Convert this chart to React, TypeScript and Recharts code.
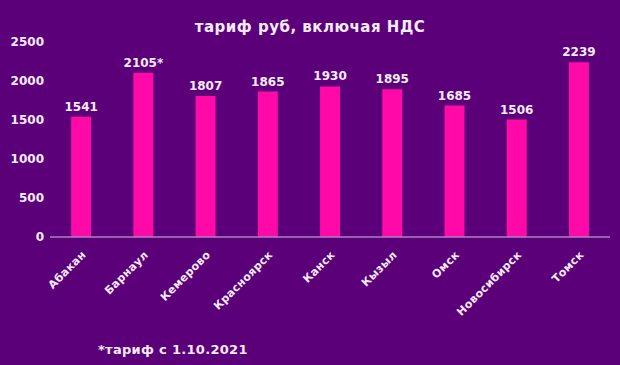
import { BarChart, Bar, XAxis, YAxis, LabelList } from 'recharts';

const cities = ['Абакан', 'Барнаул', 'Кемерово', 'Красноярск', 'Канск', 'Кызыл', 'Омск', 'Новосибирск', 'Томск'];
const tariffs = [1541, 2105, 1807, 1865, 1930, 1895, 1685, 1506, 2239];
const valueLabels = ['1541', '2105*', '1807', '1865', '1930', '1895', '1685', '1506', '2239'];
const yTicks = [0, 500, 1000, 1500, 2000, 2500];

const BG = '#5c0079';
const BAR = '#ff0aa8';
const TEXT = '#f3ecf7';
const FONT = '"DejaVu Sans", sans-serif';

const data = cities.map((city, i) => ({ city, value: tariffs[i], label: valueLabels[i] }));

export default function App() {
  return (
    <div style={{ position: 'fixed', left: 0, top: 0, width: 620, height: 365, background: BG, fontFamily: FONT }}>
      <div style={{ position: 'absolute', top: 18, left: 0, width: 620, textAlign: 'center', color: TEXT, fontSize: 15, fontWeight: 'bold', letterSpacing: 0.5 }}>
        тариф руб, включая НДС
      </div>
      <BarChart width={620} height={365} data={data} margin={{ top: 42, right: 10, left: 0, bottom: 0 }} barCategoryGap="34%">
        <YAxis
          domain={[0, 2500]}
          ticks={yTicks}
          width={50}
          axisLine={false}
          tickLine={false}
          tickMargin={0}
          tick={{ fill: TEXT, fontSize: 12, fontWeight: 'bold', fontFamily: FONT }}
        />
        <XAxis
          dataKey="city"
          height={128}
          interval={0}
          angle={-45}
          textAnchor="end"
          tickLine={false}
          tickMargin={7}
          axisLine={{ stroke: '#a783c2', strokeWidth: 1.5 }}
          tick={{ fill: TEXT, fontSize: 11, fontWeight: 'bold', fontFamily: FONT, letterSpacing: 0.3 }}
        />
        <Bar dataKey="value" fill={BAR} isAnimationActive={false}>
          <LabelList dataKey="label" position="top" offset={6} fill={TEXT} fontSize={12} fontWeight="bold" fontFamily={FONT} />
        </Bar>
      </BarChart>
      <div style={{ position: 'absolute', top: 342, left: 98, color: TEXT, fontSize: 13, fontWeight: 'bold', letterSpacing: 0.3 }}>
        *тариф с 1.10.2021
      </div>
    </div>
  );
}
